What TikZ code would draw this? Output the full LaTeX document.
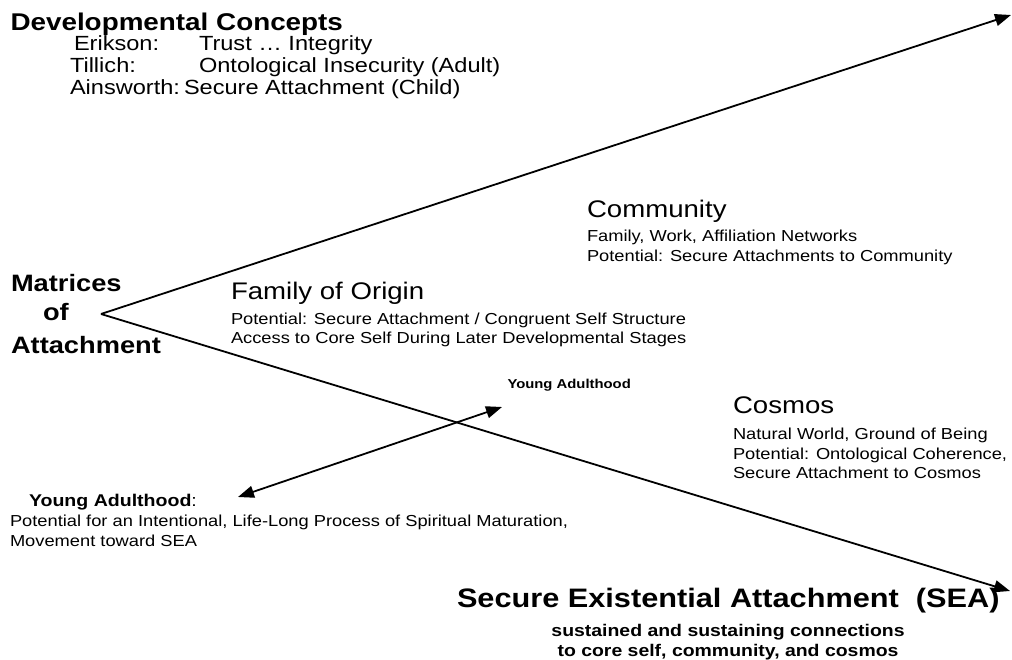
\documentclass[tikz,border=0pt]{standalone}
\usepackage{fontspec}
\setmainfont{Liberation Sans}[FakeStretch=1.15]
\usetikzlibrary{arrows.meta}
\newcommand{\fz}[1]{\fontsize{#1}{#1}\selectfont}
\begin{document}
\begin{tikzpicture}[x=1pt,y=-1pt,
  txt/.style={anchor=base west, inner sep=0pt, outer sep=0pt},
  ctr/.style={anchor=base, inner sep=0pt, outer sep=0pt},
  head/.style={txt, font=\fz{24}},
  small/.style={txt, font=\fz{15.9}},
  dev/.style={txt, font=\fz{20.5}},
  bighead/.style={txt, font=\bfseries\fz{24.2}},
  mat/.style={txt, font=\bfseries\fz{23.7}},
  tip/.style={Triangle[length=16pt,width=12pt]},
  conn/.style={line width=1.8pt, -{Triangle[length=16pt,width=12pt]}},
  dconn/.style={line width=1.8pt, {Triangle[length=16pt,width=12pt]}-{Triangle[length=16pt,width=12pt]}}]
\useasboundingbox (0,0) rectangle (1012,660);

% connectors
\coordinate (apex) at (101,314);
\coordinate (tipU) at (1011,15);
\coordinate (tipL) at (1010,591);
\coordinate (yaL) at (238,497);
\coordinate (yaR) at (502,407);
\draw[conn] (apex) -- (tipU);
\draw[conn] (apex) -- (tipL);
\draw[dconn] (yaL) -- (yaR);

% Developmental concepts
\node[bighead] (dev) at (10.5,31) {Developmental Concepts};
\node[dev] (erik) at (74,51) {Erikson:};
\node[dev] (erikv) at (199,51) {Trust … Integrity};
\node[dev] (till) at (70,73) {Tillich:};
\node[dev] (tillv) at (199,73) {Ontological Insecurity (Adult)};
\node[dev] (ains) at (70,95) {Ainsworth:};
\node[dev] (ainsv) at (184,95) {Secure Attachment (Child)};

% Matrices
\node[mat] (m1) at (11,292) {Matrices};
\node[mat] (m2) at (43,321) {of};
\node[mat] (m3) at (11,353) {Attachment};

% Community
\node[head] (comm) at (587,218) {Community};
\node[small] (comm1) at (587,242) {Family, Work, Affiliation Networks};
\node[small] (comm2) at (587,262) {Potential: Secure Attachments to Community};

% Family of Origin
\node[head] (fam) at (231,300) {Family of Origin};
\node[small] (fam1) at (231,324) {Potential: Secure Attachment / Congruent Self Structure};
\node[small] (fam2) at (231,344) {Access to Core Self During Later Developmental Stages};

% Young adulthood (middle)
\node[txt, font=\bfseries\fz{12.9}] (yam) at (507.5,388) {Young Adulthood};

% Cosmos
\node[head] (cos) at (733,413) {Cosmos};
\node[small] (cos1) at (733,439) {Natural World, Ground of Being};
\node[small] (cos2) at (733,459) {Potential: Ontological Coherence,};
\node[small] (cos3) at (733,478) {Secure Attachment to Cosmos};

% Young adulthood (left)
\node[txt, font=\fz{17}] (yal) at (29,506) {\textbf{Young Adulthood}:};
\node[small] (yal1) at (10,526) {Potential for an Intentional, Life-Long Process of Spiritual Maturation,};
\node[small] (yal2) at (10,546) {Movement toward SEA};

% SEA
\node[txt, font=\bfseries\fz{26.7}] (sea) at (457,607) {Secure Existential Attachment\ \ (SEA)};
\node[ctr, font=\bfseries\fz{16.9}] (sea1) at (728,636) {sustained and sustaining connections};
\node[ctr, font=\bfseries\fz{16.9}] (sea2) at (728,656) {to core self, community, and cosmos};
\end{tikzpicture}
\end{document}
